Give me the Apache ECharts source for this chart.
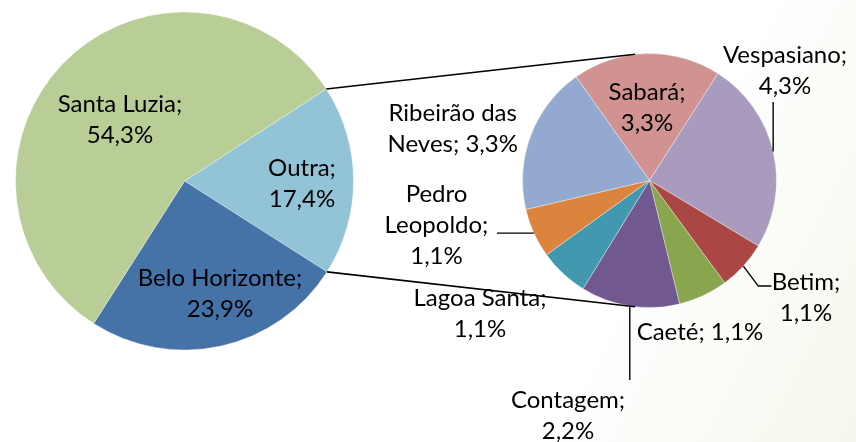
<!DOCTYPE html>
<html>
<head>
<meta charset="utf-8">
<script src="https://cdn.jsdelivr.net/npm/echarts@6/dist/echarts.min.js"></script>
<style>
  html, body { margin: 0; padding: 0; background: #ffffff; }
  #chart { width: 856px; height: 442px; }
</style>
</head>
<body>
<div id="chart"></div>
<script>
// Main pie: city of origin; "Outra" is broken down in the secondary pie
const mainNames  = ['Outra', 'Belo Horizonte', 'Santa Luzia'];
const mainValues = [17.4, 23.9, 54.3];

// Secondary pie: breakdown of "Outra"
const otherNames  = ['Sabará', 'Vespasiano', 'Betim', 'Caeté', 'Contagem', 'Lagoa Santa', 'Pedro Leopoldo', 'Ribeirão das Neves'];
const otherValues = [3.3, 4.3, 1.1, 1.1, 2.2, 1.1, 1.1, 3.3];

// Styling and layout
const mainColors  = ['#93c3d6', '#4572a7', '#b9cd96'];
const otherColors = ['#d19392', '#a99bbd', '#aa4644', '#89a54e', '#71588f', '#4198af', '#db843d', '#93a9cf'];

const MAIN = { cx: 184.5, cy: 181, r: 169, start: 33 };
const SUB  = { cx: 649.5, cy: 180.5, r: 127, start: 125.3 };
const FONT = 'Lato';
const FONT_SIZE = 24;
const LINE_H = 31;

// Label text templates ({n} = name, {v} = value)
const labelTemplates = {
  'Caeté': '{n}; {v}',
  'Ribeirão das Neves': 'Ribeirão das\nNeves; {v}',
  'Pedro Leopoldo': 'Pedro\nLeopoldo;\n{v}'
};
const defaultTemplate = '{n};\n{v}';

// Label centres
const mainLabelPos = {
  'Outra': [302, 184],
  'Belo Horizonte': [220, 294],
  'Santa Luzia': [120, 120]
};
const subLabelPos = {
  'Sabará': [647, 107.5],
  'Vespasiano': [785, 71],
  'Betim': [806, 298],
  'Caeté': [700, 332],
  'Contagem': [568, 416],
  'Lagoa Santa': [480, 314],
  'Pedro Leopoldo': [436.5, 225.6],
  'Ribeirão das Neves': [452.7, 129]
};

// Leader lines, starting at the slice's mid-angle on the rim
const leaders = {
  'Vespasiano': s => [s, [s[0], 102]],
  'Betim': s => [s, [s[0] + 15, s[1] + 20], [s[0] + 28, s[1] + 20]],
  'Pedro Leopoldo': s => [s, [497, s[1]]],
  'Contagem': s => [s, [s[0], 380]]
};

function fmtValue(v) {
  return v.toFixed(1).replace('.', ',') + '%';
}
function labelText(name, value) {
  const t = labelTemplates[name] || defaultTemplate;
  return t.replace('{n}', name).replace('{v}', fmtValue(value));
}
function sliceAngles(values, start) {
  const total = values.reduce((a, b) => a + b, 0);
  let cur = start;
  return values.map(v => {
    const span = 360 * v / total;
    const a0 = cur, a1 = cur - span;
    cur = a1;
    return { a0, a1, mid: (a0 + a1) / 2 };
  });
}
function rimPoint(pie, deg) {
  const rad = deg * Math.PI / 180;
  return [pie.cx + pie.r * Math.cos(rad), pie.cy - pie.r * Math.sin(rad)];
}

const mainAngles = sliceAngles(mainValues, MAIN.start);
const subAngles = sliceAngles(otherValues, SUB.start);

const graphics = [];
// Connector lines from the "Outra" slice to the secondary pie
const linkTop = [rimPoint(MAIN, mainAngles[0].a0), rimPoint(SUB, 96.5)];
const linkBot = [rimPoint(MAIN, mainAngles[0].a1), rimPoint(SUB, -96.5)];
[linkTop, linkBot].forEach(seg => {
  graphics.push({
    type: 'line', z: 100,
    shape: { x1: seg[0][0], y1: seg[0][1], x2: seg[1][0], y2: seg[1][1] },
    style: { stroke: '#000', lineWidth: 1.6 }
  });
});
// Leader lines for the outer labels
otherNames.forEach((name, i) => {
  if (!leaders[name]) return;
  const pts = leaders[name](rimPoint(SUB, subAngles[i].mid));
  graphics.push({
    type: 'polyline', z: 100,
    shape: { points: pts },
    style: { stroke: '#000', lineWidth: 1.4, fill: null }
  });
});

const labelStyle = {
  show: true,
  position: 'inside',
  color: '#000',
  fontFamily: FONT,
  fontSize: FONT_SIZE,
  lineHeight: LINE_H,
  align: 'center',
  formatter: p => labelText(p.name, p.value)
};

const chart = echarts.init(document.getElementById('chart'), null, { renderer: 'canvas' });
chart.setOption({
  animation: false,
  backgroundColor: {
    type: 'linear', x: 0, y: 0, x2: 1, y2: 1,
    colorStops: [
      { offset: 0, color: '#ffffff' },
      { offset: 0.7, color: '#ffffff' },
      { offset: 1, color: '#f4f8ec' }
    ]
  },
  series: [
    {
      type: 'pie',
      center: [MAIN.cx, MAIN.cy],
      radius: MAIN.r,
      startAngle: MAIN.start,
      clockwise: true,
      label: labelStyle,
      labelLine: { show: false },
      itemStyle: { borderColor: 'rgba(255,255,255,0.6)', borderWidth: 0.6 },
      emphasis: { disabled: true },
      labelLayout: p => {
        const pos = mainLabelPos[mainNames[p.dataIndex]];
        return { x: pos[0], y: pos[1], align: 'center', verticalAlign: 'middle' };
      },
      data: mainNames.map((n, i) => ({ name: n, value: mainValues[i], itemStyle: { color: mainColors[i] } }))
    },
    {
      type: 'pie',
      center: [SUB.cx, SUB.cy],
      radius: SUB.r,
      startAngle: SUB.start,
      clockwise: true,
      label: labelStyle,
      labelLine: { show: false },
      itemStyle: { borderColor: 'rgba(255,255,255,0.6)', borderWidth: 0.6 },
      emphasis: { disabled: true },
      labelLayout: p => {
        const pos = subLabelPos[otherNames[p.dataIndex]];
        return { x: pos[0], y: pos[1], align: 'center', verticalAlign: 'middle' };
      },
      data: otherNames.map((n, i) => ({ name: n, value: otherValues[i], itemStyle: { color: otherColors[i] } }))
    }
  ],
  graphic: graphics
});
</script>
</body>
</html>
